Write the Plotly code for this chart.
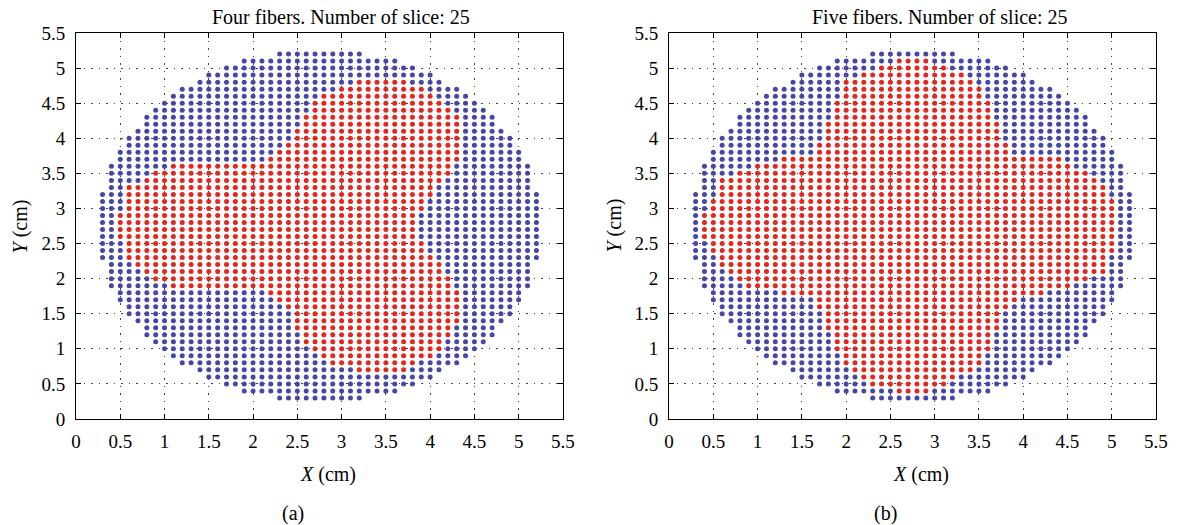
import plotly.graph_objects as go

# ---------------- data ----------------
# grid rows (cm) and the horizontal extent of the sampled disc in each row
row_y = [0.3, 0.4, 0.5, 0.6, 0.7, 0.8, 0.9, 1.0, 1.1, 1.2,
         1.3, 1.4, 1.5, 1.6, 1.7, 1.8, 1.9, 2.0, 2.1, 2.2,
         2.3, 2.4, 2.5, 2.6, 2.7, 2.8, 2.9, 3.0, 3.1, 3.2,
         3.3, 3.4, 3.5, 3.6, 3.7, 3.8, 3.9, 4.0, 4.1, 4.2,
         4.3, 4.4, 4.5, 4.6, 4.7, 4.8, 4.9, 5.0, 5.1, 5.2]
row_xmin = [2.3, 1.9, 1.7, 1.5, 1.4, 1.2, 1.1, 1.0, 0.9, 0.8,
            0.8, 0.7, 0.6, 0.6, 0.5, 0.5, 0.4, 0.4, 0.4, 0.4,
            0.3, 0.3, 0.3, 0.3, 0.3, 0.3, 0.3, 0.3, 0.3, 0.3,
            0.4, 0.4, 0.4, 0.4, 0.5, 0.5, 0.6, 0.6, 0.7, 0.8,
            0.8, 0.9, 1.0, 1.1, 1.2, 1.4, 1.5, 1.7, 1.9, 2.3]
row_xmax = [3.2, 3.6, 3.8, 4.0, 4.1, 4.3, 4.4, 4.5, 4.6, 4.7,
            4.7, 4.8, 4.9, 4.9, 5.0, 5.0, 5.1, 5.1, 5.1, 5.1,
            5.2, 5.2, 5.2, 5.2, 5.2, 5.2, 5.2, 5.2, 5.2, 5.2,
            5.1, 5.1, 5.1, 5.1, 5.0, 5.0, 4.9, 4.9, 4.8, 4.7,
            4.7, 4.6, 4.5, 4.4, 4.3, 4.1, 4.0, 3.8, 3.6, 3.2]

# red (fiber-covered) interval in each row, panel (a): four fibers
a_red_lo = [None, None, None, None, 3.2, 2.9, 2.8, 2.7, 2.6, 2.6,
            2.5, 2.5, 2.5, 2.4, 2.3, 2.2, 1.1, 0.9, 0.8, 0.7,
            0.6, 0.6, 0.6, 0.5, 0.5, 0.5, 0.5, 0.6, 0.6, 0.6,
            0.6, 0.8, 0.9, 1.1, 2.2, 2.3, 2.4, 2.5, 2.5, 2.6,
            2.6, 2.7, 2.7, 2.8, 3.0, 3.2, None, None, None, None]
a_red_hi = [None, None, None, None, 3.7, 3.8, 4.0, 4.1, 4.1, 4.2,
            4.2, 4.3, 4.3, 4.3, 4.3, 4.3, 4.2, 4.2, 4.1, 4.1,
            4.0, 3.9, 3.9, 3.8, 3.8, 3.8, 3.8, 3.9, 3.9, 4.0,
            4.0, 4.1, 4.2, 4.2, 4.3, 4.3, 4.3, 4.3, 4.3, 4.3,
            4.3, 4.2, 4.1, 4.0, 3.9, 3.7, None, None, None, None]

# red interval in each row, panel (b): five fibers
b_red_lo = [None, 2.6, 2.3, 2.2, 2.1, 2.0, 2.0, 1.9, 1.9, 1.9,
            1.8, 1.8, 1.8, 1.7, 1.7, 1.3, 0.9, 0.8, 0.7, 0.6,
            0.6, 0.5, 0.5, 0.4, 0.4, 0.4, 0.4, 0.5, 0.5, 0.6,
            0.6, 0.6, 0.8, 1.0, 1.3, 1.7, 1.7, 1.8, 1.8, 1.8,
            1.9, 1.9, 1.9, 2.0, 2.0, 2.0, 2.2, 2.4, 2.6, None]
b_red_hi = [None, 2.9, 3.1, 3.2, 3.4, 3.5, 3.5, 3.6, 3.6, 3.6,
            3.7, 3.7, 3.7, 3.8, 3.9, 4.2, 4.5, 4.7, 4.9, 4.9,
            4.9, 5.0, 5.0, 5.0, 5.0, 5.0, 5.0, 5.0, 5.0, 4.9,
            4.9, 4.8, 4.7, 4.5, 4.4, 3.8, 3.8, 3.7, 3.7, 3.7,
            3.6, 3.6, 3.6, 3.5, 3.5, 3.4, 3.3, 3.1, 2.9, None]

grid_step = 0.1
tick_vals = [0, 0.5, 1, 1.5, 2, 2.5, 3, 3.5, 4, 4.5, 5, 5.5]
tick_text = ["0", "0.5", "1", "1.5", "2", "2.5", "3", "3.5", "4", "4.5", "5", "5.5"]
titles = ["Four fibers. Number of slice: 25", "Five fibers. Number of slice: 25"]
panel_tags = ["(a)", "(b)"]

BLUE = "#4646A8"
RED = "#E3261E"
FONT = "Liberation Serif"


def split_points(lo_list, hi_list):
    bx, by, rx, ry = [], [], [], []
    for y, x0, x1, lo, hi in zip(row_y, row_xmin, row_xmax, lo_list, hi_list):
        n = int(round((x1 - x0) / grid_step)) + 1
        for i in range(n):
            x = round(x0 + grid_step * i, 1)
            if lo is not None and lo - 1e-6 <= x <= hi + 1e-6:
                rx.append(x); ry.append(y)
            else:
                bx.append(x); by.append(y)
    return bx, by, rx, ry


fig = go.Figure()
for k, (lo, hi) in enumerate([(a_red_lo, a_red_hi), (b_red_lo, b_red_hi)]):
    bx, by, rx, ry = split_points(lo, hi)
    xa = "x" if k == 0 else "x2"
    ya = "y" if k == 0 else "y2"
    fig.add_trace(go.Scatter(x=bx, y=by, mode="markers", xaxis=xa, yaxis=ya,
                             marker=dict(size=5, color=BLUE), showlegend=False,
                             hoverinfo="skip"))
    fig.add_trace(go.Scatter(x=rx, y=ry, mode="markers", xaxis=xa, yaxis=ya,
                             marker=dict(size=5, color=RED), showlegend=False,
                             hoverinfo="skip"))

axis_common = dict(
    range=[0, 5.5], tickmode="array", tickvals=tick_vals, ticktext=tick_text,
    ticks="inside", ticklen=5, tickcolor="black", tickwidth=1,
    showline=True, linecolor="black", linewidth=1, mirror="ticks",
    showgrid=True, gridcolor="#444444", gridwidth=1, griddash="1.5px,6px",
    zeroline=False, tickfont=dict(family=FONT, size=19, color="black"),
    fixedrange=True,
)

L, R, T, B = 76, 15, 33, 106
W, H = 1180, 525
pw = W - L - R
ph = H - T - B
da = [0, 491 / pw]
db = [(674 - L) / pw, 1]

fig.update_layout(
    width=W, height=H, margin=dict(l=L, r=R, t=T, b=B),
    paper_bgcolor="white", plot_bgcolor="white",
    xaxis=dict(domain=da, anchor="y", ticklabelstandoff=5, **axis_common),
    yaxis=dict(domain=[0, 1], anchor="x", ticklabelstandoff=6, **axis_common),
    xaxis2=dict(domain=db, anchor="y2", ticklabelstandoff=5, **axis_common),
    yaxis2=dict(domain=[0, 1], anchor="x2", ticklabelstandoff=6, **axis_common),
)


def px_x(p):
    return (p - L) / pw


def px_y(p):
    return (H - B - p) / ph


anns = []
title_cx = [343, 947]
xlab_cx = [330, 928]
tag_cx = [295, 892]
ylab_cx = [20, 618]
for k in range(2):
    anns.append(dict(text=titles[k], x=px_x(title_cx[k]), y=px_y(17), xref="paper", yref="paper",
                     xanchor="center", yanchor="middle", showarrow=False,
                     font=dict(family=FONT, size=20, color="black")))
    anns.append(dict(text="<i>X</i> (cm)", x=px_x(xlab_cx[k]), y=px_y(474), xref="paper", yref="paper",
                     xanchor="center", yanchor="middle", showarrow=False,
                     font=dict(family=FONT, size=20, color="black")))
    anns.append(dict(text=panel_tags[k], x=px_x(tag_cx[k]), y=px_y(513), xref="paper", yref="paper",
                     xanchor="center", yanchor="middle", showarrow=False,
                     font=dict(family=FONT, size=20, color="black")))
    anns.append(dict(text="<i>Y</i> (cm)", x=px_x(ylab_cx[k]), y=px_y(226), xref="paper", yref="paper",
                     xanchor="center", yanchor="middle", showarrow=False, textangle=-90,
                     font=dict(family=FONT, size=20, color="black")))
fig.update_layout(annotations=anns)

fig.write_html("out.html", config={"displayModeBar": False})
